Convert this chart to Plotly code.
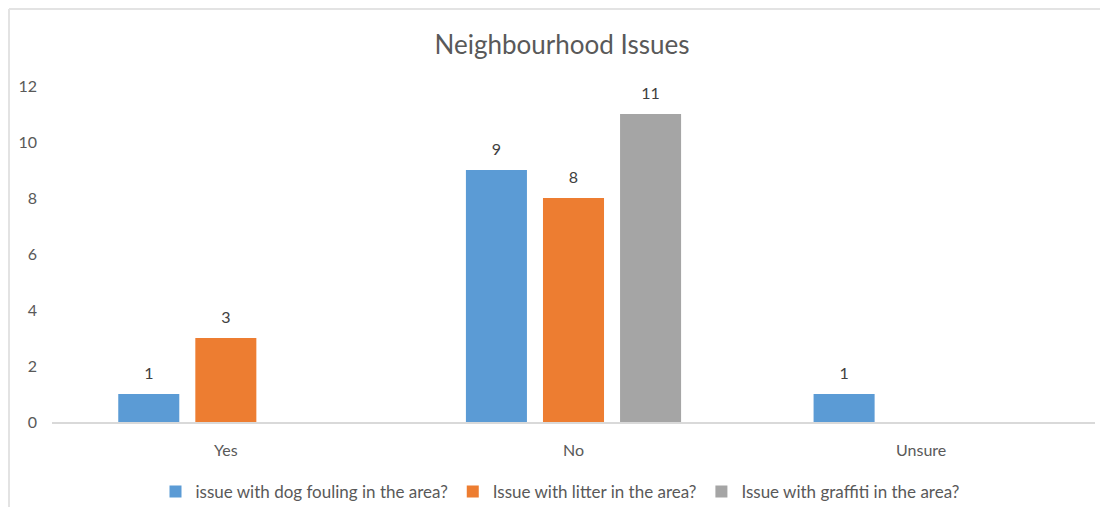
import plotly.graph_objects as go

categories = ["Yes", "No", "Unsure"]
series_names = [
    "issue with dog fouling in the area?",
    "Issue with litter in the area?",
    "Issue with graffiti in the area?",
]
# blank cells in the source chart (no bar, no label) are None
dog_fouling = [1, 9, 1]
litter = [3, 8, None]
graffiti = [None, 11, None]
colors = ["#5B9BD5", "#ED7D31", "#A5A5A5"]
y_ticks = [0, 2, 4, 6, 8, 10, 12]

# page has an 8px body margin; keep the figure inside the viewport
OFF = 8
W, H = 1108 - 2 * OFF, 515 - 2 * OFF
ML = 52 - OFF
MT = 86 - OFF
MR = W - (1095 - OFF)
MB = H - (422 - OFF)
FONT = "Lato, 'Open Sans', sans-serif"
BARGAP = 0.335

fig = go.Figure()
all_series = [dog_fouling, litter, graffiti]
for name, vals, col in zip(series_names, all_series, colors):
    fig.add_trace(go.Bar(
        x=categories, y=vals, name=name,
        marker=dict(color=col, line=dict(width=0)),
        offsetgroup=name, alignmentgroup="g",
    ))
# data labels, placed above the bars through the same grouped scale
for name, vals in zip(series_names, all_series):
    fig.add_trace(go.Scatter(
        x=categories, y=vals, mode="markers+text",
        text=[str(v) if v is not None else None for v in vals],
        textposition="top center",
        textfont=dict(size=16, color="#404040", family=FONT),
        marker=dict(size=16, opacity=0),
        offsetgroup=name, alignmentgroup="g",
        showlegend=False, hoverinfo="skip", cliponaxis=False,
    ))

pw = W - ML - MR
ph = H - MT - MB
# outer frame (top and left edges)
fx0 = (1 - ML) / pw
fx1 = (W - ML) / pw
fy_top = (H - MB - 1) / ph
fy_bot = (H - MB - H) / ph

fig.update_layout(
    width=W, height=H,
    margin=dict(l=ML, r=MR, t=MT, b=MB, autoexpand=False),
    paper_bgcolor="white", plot_bgcolor="white",
    barmode="group", bargap=BARGAP, bargroupgap=0.208,
    scattermode="group", scattergap=BARGAP,
    title=dict(text="Neighbourhood Issues", x=(562 - OFF) / W, xanchor="center",
               y=1 - (45 - OFF) / H, yanchor="middle",
               font=dict(size=26, color="#595959", family=FONT)),
    font=dict(family=FONT, color="#595959", size=16),
    xaxis=dict(showgrid=False, showline=True, linecolor="#D9D9D9", linewidth=1.5,
               ticks="", tickfont=dict(size=16, color="#595959"), ticklabelstandoff=13),
    yaxis=dict(range=[0, 12], tickvals=y_ticks, showgrid=False, zeroline=False,
               showline=False, tickfont=dict(size=16, color="#595959"),
               ticklabelstandoff=14),
    legend=dict(orientation="h", x=(560 - OFF - ML) / pw, xanchor="center",
                yref="container", y=1 - (492 - OFF) / H,
                yanchor="middle", font=dict(size=17, color="#595959"),
                itemwidth=30, traceorder="normal"),
    shapes=[
        dict(type="line", xref="paper", yref="paper", x0=fx0, x1=fx1, y0=fy_top, y1=fy_top,
             line=dict(color="#E3E3E3", width=2)),
        dict(type="line", xref="paper", yref="paper", x0=fx0, x1=fx0, y0=fy_top, y1=fy_bot,
             line=dict(color="#E3E3E3", width=2)),
    ],
)

fig.write_html("out.html")
